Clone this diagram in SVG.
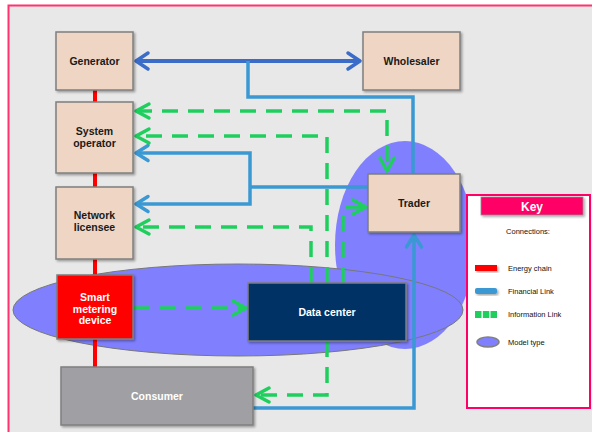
<svg xmlns="http://www.w3.org/2000/svg" width="592" height="432" viewBox="0 0 592 432">
<style>
.box{fill:#eed5c4;stroke:#7f7f7f;stroke-width:1.5}
.lbl{font-family:"Liberation Sans",Arial,sans-serif;font-size:10.5px;font-weight:bold;fill:#1a1a1a;text-anchor:middle;dominant-baseline:central}
.wt{fill:#ffffff}
.fin{fill:none;stroke:#3a98d2;stroke-width:3.5}
.info{fill:none;stroke:#1ecf5e;stroke-width:3.5;stroke-dasharray:16 10}
.kt{font-family:"Liberation Sans",Arial,sans-serif;font-size:7.5px;fill:#111111;dominant-baseline:central}
.model{fill:#8080ff}
</style>
<defs>
<filter id="sh" x="-10%" y="-10%" width="130%" height="130%"><feDropShadow dx="1.5" dy="1.5" stdDeviation="1" flood-color="#000000" flood-opacity="0.35"/></filter>
<marker id="aB" markerUnits="userSpaceOnUse" markerWidth="24" markerHeight="24" viewBox="-6 -12 24 24" refX="13" refY="0" orient="auto-start-reverse"><path d="M1,-8 L13,0 L1,8" fill="none" stroke="#3a6cc8" stroke-width="3.5" stroke-linejoin="round" stroke-linecap="round"/></marker>
<marker id="aF" markerUnits="userSpaceOnUse" markerWidth="24" markerHeight="24" viewBox="-6 -12 24 24" refX="13" refY="0" orient="auto-start-reverse"><path d="M1,-7.5 L13,0 L1,7.5" fill="none" stroke="#3a98d2" stroke-width="3.5" stroke-linejoin="round" stroke-linecap="round"/></marker>
<marker id="aG" markerUnits="userSpaceOnUse" markerWidth="24" markerHeight="24" viewBox="-6 -12 24 24" refX="13" refY="0" orient="auto-start-reverse"><path d="M0,-7 L13,0 L0,7" fill="none" stroke="#1ecf5e" stroke-width="3.5" stroke-linejoin="round" stroke-linecap="round"/></marker>
</defs>

<rect x="0" y="0" width="592" height="432" fill="#ffffff"/>
<rect x="8.5" y="5.5" width="620" height="460" fill="#e8e8e8" stroke="#ff3370" stroke-width="2"/>

<g id="model-types">
<ellipse class="model" cx="405" cy="245" rx="70" ry="104"/>
<ellipse class="model" cx="238" cy="310" rx="225" ry="46" stroke="#777777" stroke-width="1"/>
</g>

<g id="connectors">
<path d="M95,90 V367" stroke="#ff0000" stroke-width="4" fill="none"/>
<path d="M136,61 H360" fill="none" stroke="#3a6cc8" stroke-width="4" marker-start="url(#aB)" marker-end="url(#aB)"/>
<path class="fin" d="M248,61 V97 H413 V174"/>
<path class="fin" d="M368,187 H250"/>
<path class="fin" d="M136,153 H250 V204 H136" marker-start="url(#aF)" marker-end="url(#aF)"/>
<path class="fin" d="M253,408 H414 V235" marker-end="url(#aF)"/>
<path class="info" d="M136,111 H387 V171" marker-start="url(#aG)" marker-end="url(#aG)"/>
<path class="info" d="M327,283 V136 H136" marker-end="url(#aG)"/>
<path class="info" d="M311,283 V227 H136" marker-end="url(#aG)"/>
<path class="info" d="M343,283 V207 H366" marker-end="url(#aG)"/>
<path class="info" d="M133,308 H246" marker-end="url(#aG)"/>
<path class="info" d="M327,341 V395 H256" marker-end="url(#aG)"/>
</g>

<g id="generator">
<rect class="box" x="56" y="32" width="77" height="58" filter="url(#sh)"/>
<text class="lbl" x="94.5" y="61">Generator</text>
</g>
<g id="wholesaler">
<rect class="box" x="363" y="32" width="97" height="58" filter="url(#sh)"/>
<text class="lbl" x="411.5" y="61">Wholesaler</text>
</g>
<g id="system-operator">
<rect class="box" x="56" y="102" width="77" height="71" filter="url(#sh)"/>
<text class="lbl" x="94.5" y="131">System</text>
<text class="lbl" x="94.5" y="143">operator</text>
</g>
<g id="network-licensee">
<rect class="box" x="56" y="187" width="77" height="72" filter="url(#sh)"/>
<text class="lbl" x="94.5" y="215">Network</text>
<text class="lbl" x="94.5" y="227">licensee</text>
</g>
<g id="smart-metering-device">
<rect x="57" y="275" width="76" height="64" fill="#ff0000" stroke="#7f7f7f" stroke-width="1.5" filter="url(#sh)"/>
<text class="lbl wt" x="95" y="297">Smart</text>
<text class="lbl wt" x="95" y="309">metering</text>
<text class="lbl wt" x="95" y="320">device</text>
</g>
<g id="consumer">
<rect x="61" y="367" width="192" height="58" fill="#a0a0a4" stroke="#7f7f7f" stroke-width="1.5" filter="url(#sh)"/>
<text class="lbl wt" x="157" y="396">Consumer</text>
</g>
<g id="trader">
<rect class="box" x="368" y="174" width="92" height="58" filter="url(#sh)"/>
<text class="lbl" x="414" y="203">Trader</text>
</g>
<g id="data-center">
<rect x="248" y="283" width="158" height="58" fill="#003366" stroke="#7f7f7f" stroke-width="1.5" filter="url(#sh)"/>
<text class="lbl wt" x="327" y="312">Data center</text>
</g>

<g id="key">
<rect x="467" y="195" width="123" height="213" fill="#ffffff" stroke="#ff0066" stroke-width="2"/>
<rect x="481" y="197" width="102" height="18" fill="#ff0066" stroke="#909090" stroke-width="0.8" filter="url(#sh)"/>
<text class="lbl wt" x="532" y="206.5" style="font-size:12px">Key</text>
<text class="kt" x="528" y="231" text-anchor="middle">Connections:</text>
<rect x="475" y="265" width="22" height="6" fill="#ff0000" filter="url(#sh)"/>
<text class="kt" x="508" y="268">Energy chain</text>
<rect x="475" y="288" width="22" height="6" rx="2" fill="#3a98d2" filter="url(#sh)"/>
<text class="kt" x="508" y="291">Financial  Link</text>
<rect x="475" y="311" width="6.5" height="7" fill="#1ecf5e"/>
<rect x="482.8" y="311" width="6.5" height="7" fill="#1ecf5e"/>
<rect x="490.5" y="311" width="6.5" height="7" fill="#1ecf5e"/>
<text class="kt" x="508" y="314">Information Link</text>
<ellipse cx="488" cy="342" rx="11" ry="5" fill="#8080ff" stroke="#808080" stroke-width="1.5"/>
<text class="kt" x="508" y="342">Model type</text>
</g>
</svg>
